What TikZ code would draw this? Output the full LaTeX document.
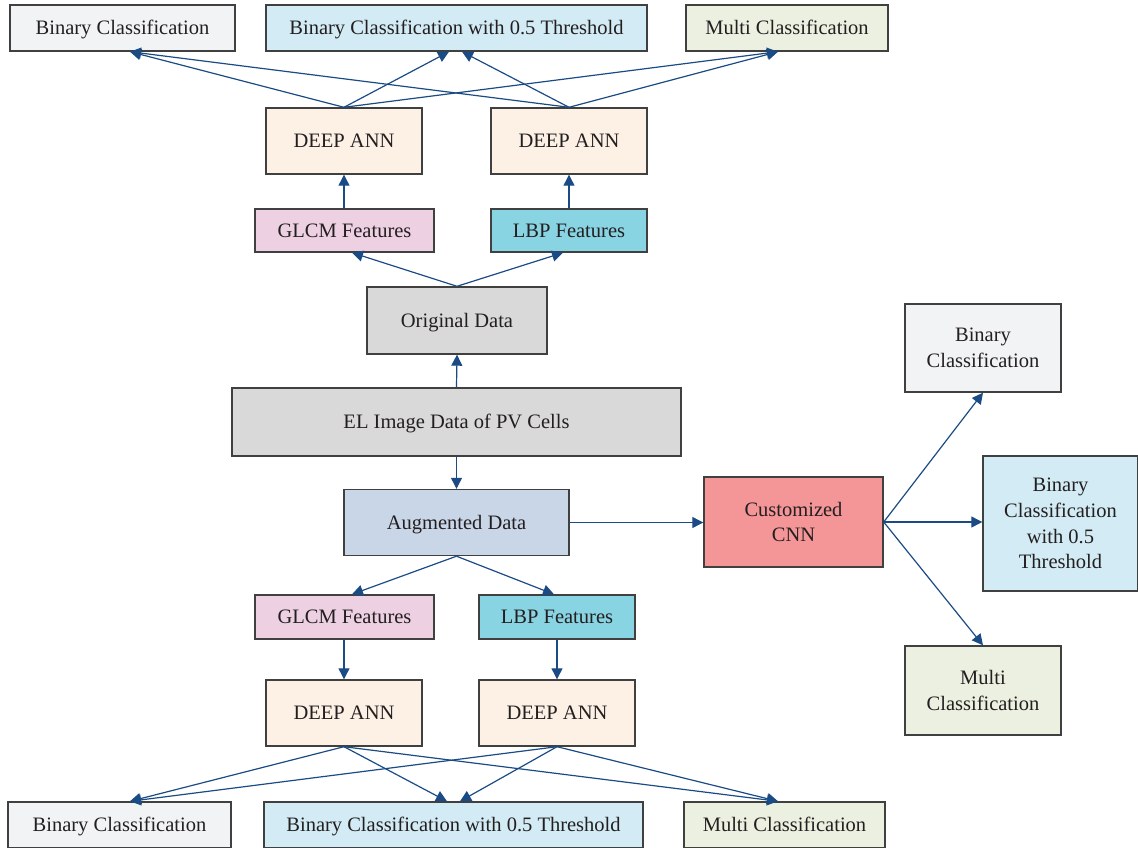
\documentclass[tikz,border=0pt]{standalone}
\usepackage{fontspec}
\setmainfont{Liberation Serif}
\usetikzlibrary{arrows.meta}
\definecolor{cBC}{HTML}{F2F3F5}
\definecolor{cBCT}{HTML}{D3EBF4}
\definecolor{cMC}{HTML}{EBF0E0}
\definecolor{cANN}{HTML}{FDF1E6}
\definecolor{cGLCM}{HTML}{EED0E3}
\definecolor{cLBP}{HTML}{89D4E2}
\definecolor{cGray}{HTML}{D9D9D9}
\definecolor{cAug}{HTML}{C9D6E8}
\definecolor{cCNN}{HTML}{F49597}
\definecolor{cArr}{HTML}{1B4B84}
\definecolor{cBorder}{HTML}{404040}
\definecolor{cText}{HTML}{231F20}
\tikzset{
  box/.style={draw=cBorder, line width=1.4pt, text=cText, inner sep=0pt, align=center,
    font=\fontsize{20.5}{25.7}\selectfont},
  oneline/.style={box, text height=15pt, text depth=2pt},
  arr/.style={draw=cArr, line width=1.2pt, -{Triangle[length=11pt,width=11pt]}},
}
\begin{document}
\begin{tikzpicture}[x=1pt,y=-1pt]
\useasboundingbox (0,0) rectangle (1138,848);
% top row
\node[oneline, fill=cBC, minimum width=225pt, minimum height=46pt] (bc1) at (122.5,28) {Binary Classification};
\node[oneline, fill=cBCT, minimum width=381pt, minimum height=46pt] (bt1) at (456.5,28) {Binary Classification with 0.5 Threshold};
\node[oneline, fill=cMC, minimum width=202pt, minimum height=46pt] (mc1) at (787,28) {Multi Classification};
\node[oneline, fill=cANN, minimum width=156pt, minimum height=66pt] (ann1) at (344,141) {DEEP ANN};
\node[oneline, fill=cANN, minimum width=156pt, minimum height=66pt] (ann2) at (569,141) {DEEP ANN};
\node[oneline, fill=cGLCM, minimum width=179pt, minimum height=43pt] (glcm1) at (344.5,230.5) {GLCM Features};
\node[oneline, fill=cLBP, minimum width=156pt, minimum height=43pt] (lbp1) at (569,230.5) {LBP Features};
\node[oneline, fill=cGray, minimum width=180pt, minimum height=67pt] (orig) at (457,320.5) {Original Data};
\node[oneline, fill=cGray, minimum width=449pt, minimum height=68pt] (el) at (456.5,422) {EL Image Data of PV Cells};
\node[oneline, fill=cAug, minimum width=225pt, minimum height=66pt] (aug) at (456.5,522.5) {Augmented Data};
\node[box, fill=cCNN, minimum width=179pt, minimum height=90pt] (cnn) at (793.5,522) {Customized\\CNN};
\node[box, fill=cBC, minimum width=156pt, minimum height=88pt] (rbc) at (983,348) {Binary\\Classification};
\node[box, fill=cBCT, minimum width=155pt, minimum height=135pt] (rbt) at (1060.5,523.5) {Binary\\Classification\\with 0.5\\Threshold};
\node[box, fill=cMC, minimum width=156pt, minimum height=89pt] (rmc) at (983,690.5) {Multi\\Classification};
% bottom part
\node[oneline, fill=cGLCM, minimum width=179pt, minimum height=44pt] (glcm2) at (344.5,617) {GLCM Features};
\node[oneline, fill=cLBP, minimum width=156pt, minimum height=44pt] (lbp2) at (557,617) {LBP Features};
\node[oneline, fill=cANN, minimum width=156pt, minimum height=66pt] (ann3) at (344,713) {DEEP ANN};
\node[oneline, fill=cANN, minimum width=156pt, minimum height=66pt] (ann4) at (557,713) {DEEP ANN};
\node[oneline, fill=cBC, minimum width=223pt, minimum height=46pt] (bc2) at (119.5,825) {Binary Classification};
\node[oneline, fill=cBCT, minimum width=379pt, minimum height=46pt] (bt2) at (453.5,825) {Binary Classification with 0.5 Threshold};
\node[oneline, fill=cMC, minimum width=201pt, minimum height=46pt] (mc2) at (784.5,825) {Multi Classification};
% connectors top
\draw[arr] (ann1.north) -- ([xshift=7.5pt]bc1.south);
\draw[arr] (ann1.north) -- ([xshift=-7.5pt]bt1.south);
\draw[arr] (ann1.north) -- ([xshift=-9pt]mc1.south);
\draw[arr] (ann2.north) -- ([xshift=7.5pt]bc1.south);
\draw[arr] (ann2.north) -- ([xshift=5.5pt]bt1.south);
\draw[arr] (ann2.north) -- ([xshift=-9pt]mc1.south);
\draw[arr] (glcm1.north -| ann1.south) -- (ann1.south);
\draw[arr] (lbp1.north) -- (ann2.south);
\draw[arr] (orig.north) -- ([xshift=7.5pt]glcm1.south);
\draw[arr] (orig.north) -- ([xshift=-6pt]lbp1.south);
\draw[arr] (el.north) -- (orig.south);
\draw[arr] (el.south) -- (aug.north);
\draw[arr] (aug.south) -- ([xshift=7.5pt]glcm2.north);
\draw[arr] (aug.south) -- ([xshift=-3pt]lbp2.north);
\draw[arr] (glcm2.south -| ann3.north) -- (ann3.north);
\draw[arr] (lbp2.south) -- (ann4.north);
\draw[arr] (aug.east) -- (cnn.west |- aug.east);
\draw[arr] (cnn.east) -- (rbc.south);
\draw[arr] (cnn.east) -- (rbt.west |- cnn.east);
\draw[arr] (cnn.east) -- (rmc.north);
% connectors bottom
\draw[arr] (ann3.south) -- ([xshift=10.5pt]bc2.north);
\draw[arr] (ann3.south) -- ([xshift=-6.5pt]bt2.north);
\draw[arr] (ann3.south) -- ([xshift=-6.5pt]mc2.north);
\draw[arr] (ann4.south) -- ([xshift=10.5pt]bc2.north);
\draw[arr] (ann4.south) -- ([xshift=6.5pt]bt2.north);
\draw[arr] (ann4.south) -- ([xshift=-6.5pt]mc2.north);
\end{tikzpicture}
\end{document}
